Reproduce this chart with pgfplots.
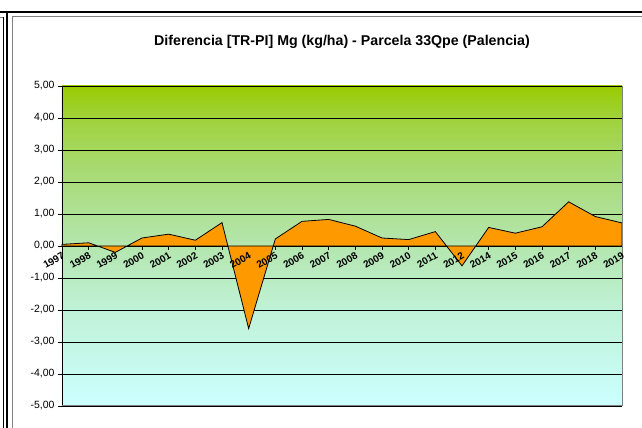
\documentclass[border=0pt]{standalone}
\usepackage{pgfplots}
\pgfplotsset{compat=1.18}
\usepackage{fontspec}
\setmainfont{Liberation Sans}
\definecolor{areaor}{RGB}{255,153,0}
\definecolor{frgray}{RGB}{128,128,128}
% plot area gradient: 25bp = -5,00 ... 75bp = 5,00
\pgfdeclareverticalshading{bggrad}{100bp}{
  color(0bp)=(rgb,255:red,204;green,255;blue,255);
  color(25bp)=(rgb,255:red,204;green,255;blue,255);
  color(40bp)=(rgb,255:red,192;green,242;blue,215);
  color(50bp)=(rgb,255:red,180;green,230;blue,175);
  color(62bp)=(rgb,255:red,168;green,218;blue,115);
  color(70bp)=(rgb,255:red,160;green,210;blue,60);
  color(75bp)=(rgb,255:red,153;green,204;blue,0);
  color(100bp)=(rgb,255:red,153;green,204;blue,0)}

\pgfplotsset{
  plotarea/.style={
    at={(62pt,22pt)}, anchor=south west,
    scale only axis, width=560pt, height=320pt,
    xmin=0, xmax=21, ymin=-5, ymax=5,
  },
}

\pgfplotstableread{
idx val
0  0.05
1  0.10
2  -0.20
3  0.25
4  0.37
5  0.18
6  0.73
7  -2.58
8  0.22
9  0.77
10 0.83
11 0.62
12 0.25
13 0.20
14 0.45
15 -0.62
16 0.58
17 0.40
18 0.60
19 1.38
20 0.92
21 0.72
}\mgdata

\begin{document}
\begin{tikzpicture}
\useasboundingbox (0pt,0pt) rectangle (642pt,428pt);
% outer frame
\draw[black, line width=2pt] (0pt,416pt) -- (642pt,416pt);
\draw[black, line width=2pt] (7pt,416pt) -- (7pt,0pt);
\draw[black, line width=0.8pt] (3pt,411pt) -- (3pt,0pt);
\draw[frgray, line width=0.8pt] (0pt,411pt) -- (3pt,411pt);
\draw[frgray, line width=1pt] (12pt,0pt) -- (12pt,411pt) -- (642pt,411pt);
\node[font=\bfseries\fontsize{14.2}{16}\selectfont] at (342pt,386pt)
  {Diferencia [TR-PI] Mg (kg/ha) - Parcela 33Qpe (Palencia)};

\begin{axis}[
  plotarea,
  axis x line=middle, axis y line=left,
  axis line style={-, black, line width=0.8pt},
  hide obscured x ticks=false, hide obscured y ticks=false,
  tick align=outside, major tick length=4pt,
  tick style={black, line width=0.6pt},
  xtick=data, xticklabels={},
  ytick={-5,-4,-3,-2,-1,0,1,2,3,4,5},
  yticklabels={{-5,00},{-4,00},{-3,00},{-2,00},{-1,00},{0,00},{1,00},{2,00},{3,00},{4,00},{5,00}},
  yticklabel style={font=\fontsize{10.5}{11}\selectfont},
  ymajorgrids, grid style={black, line width=0.7pt},
  axis background/.style={shade, shading=bggrad},
  clip=false,
]
\addplot[draw=black, line width=0.8pt, fill=areaor] table[x=idx, y=val] {\mgdata} \closedcycle;
\draw[frgray, line width=1pt] (axis cs:0,-5) -- (axis cs:21,-5) -- (axis cs:21,5);
\end{axis}

% year labels on top of the area
\begin{axis}[
  plotarea,
  axis x line=middle, axis y line=none,
  x axis line style={draw=none},
  hide obscured x ticks=false,
  major tick length=4pt, tick align=outside,
  xtick={0,...,21}, xtick style={draw=none},
  xticklabels={1997,1998,1999,2000,2001,2002,2003,2004,2005,2006,2007,2008,2009,2010,2011,2012,2014,2015,2016,2017,2018,2019},
  xticklabel style={font=\bfseries\fontsize{10}{10}\selectfont, rotate=30, anchor=north east, inner sep=1pt},
]
\end{axis}
\end{tikzpicture}
\end{document}
